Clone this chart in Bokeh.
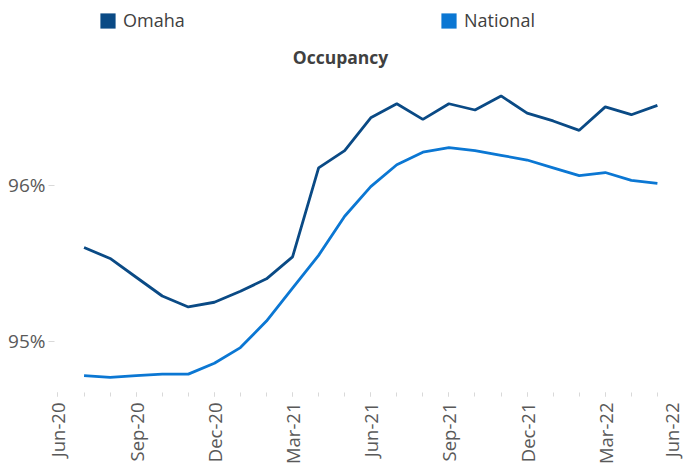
from math import pi
from bokeh.plotting import figure
from bokeh.models import FixedTicker, Legend, LegendItem, Label, Range1d, ColumnDataSource
from bokeh.embed import file_html
from bokeh.resources import INLINE

# ---- data ----
all_months = ["Jun-20", "Jul-20", "Aug-20", "Sep-20", "Oct-20", "Nov-20", "Dec-20",
              "Jan-21", "Feb-21", "Mar-21", "Apr-21", "May-21", "Jun-21", "Jul-21",
              "Aug-21", "Sep-21", "Oct-21", "Nov-21", "Dec-21", "Jan-22", "Feb-22",
              "Mar-22", "Apr-22", "May-22", "Jun-22"]
data_months = all_months[1:24]
omaha = [95.60, 95.53, 95.41, 95.29, 95.22, 95.25, 95.32, 95.40, 95.54, 96.11, 96.22,
         96.43, 96.52, 96.42, 96.52, 96.48, 96.57, 96.46, 96.41, 96.35, 96.50, 96.45, 96.51]
national = [94.78, 94.77, 94.78, 94.79, 94.79, 94.86, 94.96, 95.13, 95.34, 95.55, 95.80,
            95.99, 96.13, 96.21, 96.24, 96.22, 96.19, 96.16, 96.11, 96.06, 96.08, 96.03, 96.01]
tick_labels = ["Jun-20", "Sep-20", "Dec-20", "Mar-21", "Jun-21", "Sep-21", "Dec-21", "Mar-22", "Jun-22"]
y_ticks = [95, 96]
y_labels = ["95%", "96%"]
series_names = ["Omaha", "National"]
colors = ["#0a4a85", "#0b77d3"]

x = [all_months.index(m) for m in data_months]
source = ColumnDataSource(dict(x=x, omaha=omaha, national=national))

FONT = "Open Sans"

p = figure(width=683, height=467, output_backend="svg", toolbar_location=None,
           x_range=Range1d(-0.134, 24.001), y_range=Range1d(94.6726, 97.1806),
           min_border_left=54, min_border_right=0, min_border_top=0, min_border_bottom=74)
p.outline_line_color = None
p.xgrid.visible = False
p.ygrid.visible = False

r1 = p.line("x", "omaha", source=source, line_color=colors[0], line_width=2.8)
r2 = p.line("x", "national", source=source, line_color=colors[1], line_width=2.8)

# x axis
tick_pos = [all_months.index(t) for t in tick_labels]
p.xaxis.ticker = FixedTicker(ticks=tick_pos, minor_ticks=list(range(len(all_months))))
p.xaxis.major_label_overrides = {i: t for i, t in zip(tick_pos, tick_labels)}
p.xaxis.major_label_orientation = pi / 2
p.xaxis.axis_line_color = None
p.xaxis.major_tick_line_color = "#d9d9d9"
p.xaxis.minor_tick_line_color = "#d9d9d9"
p.xaxis.major_tick_out = 4
p.xaxis.major_tick_in = 0
p.xaxis.minor_tick_out = 4
p.xaxis.minor_tick_in = 0
p.xaxis.major_label_standoff = 6
p.xaxis.major_label_text_font = FONT
p.xaxis.major_label_text_font_size = "18.5px"
p.xaxis.major_label_text_color = "#595959"

# y axis
p.yaxis.ticker = FixedTicker(ticks=y_ticks, minor_ticks=[])
p.yaxis.major_label_overrides = {v: l for v, l in zip(y_ticks, y_labels)}
p.yaxis.axis_line_color = None
p.yaxis.major_tick_line_color = "#d9d9d9"
p.yaxis.major_tick_out = 6
p.yaxis.major_tick_in = 0
p.yaxis.major_label_standoff = 3
p.yaxis.major_label_text_font = FONT
p.yaxis.major_label_text_font_size = "19px"
p.yaxis.major_label_text_color = "#595959"

# legend (square swatches; the swatch renderers sit outside the visible range)
sq1 = p.quad(left=[-9], right=[-8], top=[90], bottom=[89], fill_color=colors[0], line_color=None)
sq2 = p.quad(left=[-9], right=[-8], top=[90], bottom=[89], fill_color=colors[1], line_color=None)
for sq, name, loc in [(sq1, series_names[0], (44, 360)), (sq2, series_names[1], (385, 360))]:
    leg = Legend(items=[LegendItem(label=name, renderers=[sq])], location=loc,
                 orientation="horizontal", glyph_width=19, glyph_height=19,
                 label_standoff=6, padding=0, margin=0, border_line_color=None,
                 background_fill_alpha=0, label_text_font=FONT,
                 label_text_font_size="18px", label_text_color="#404040",
                 label_height=19)
    p.add_layout(leg)

title = Label(x=286, y=336, x_units="screen", y_units="screen", text="Occupancy",
              text_align="center", text_baseline="middle", text_font=FONT,
              text_font_size="17.5px", text_font_style="bold", text_color="#404040")
p.add_layout(title)

open("out.html", "w").write(file_html(p, INLINE))
